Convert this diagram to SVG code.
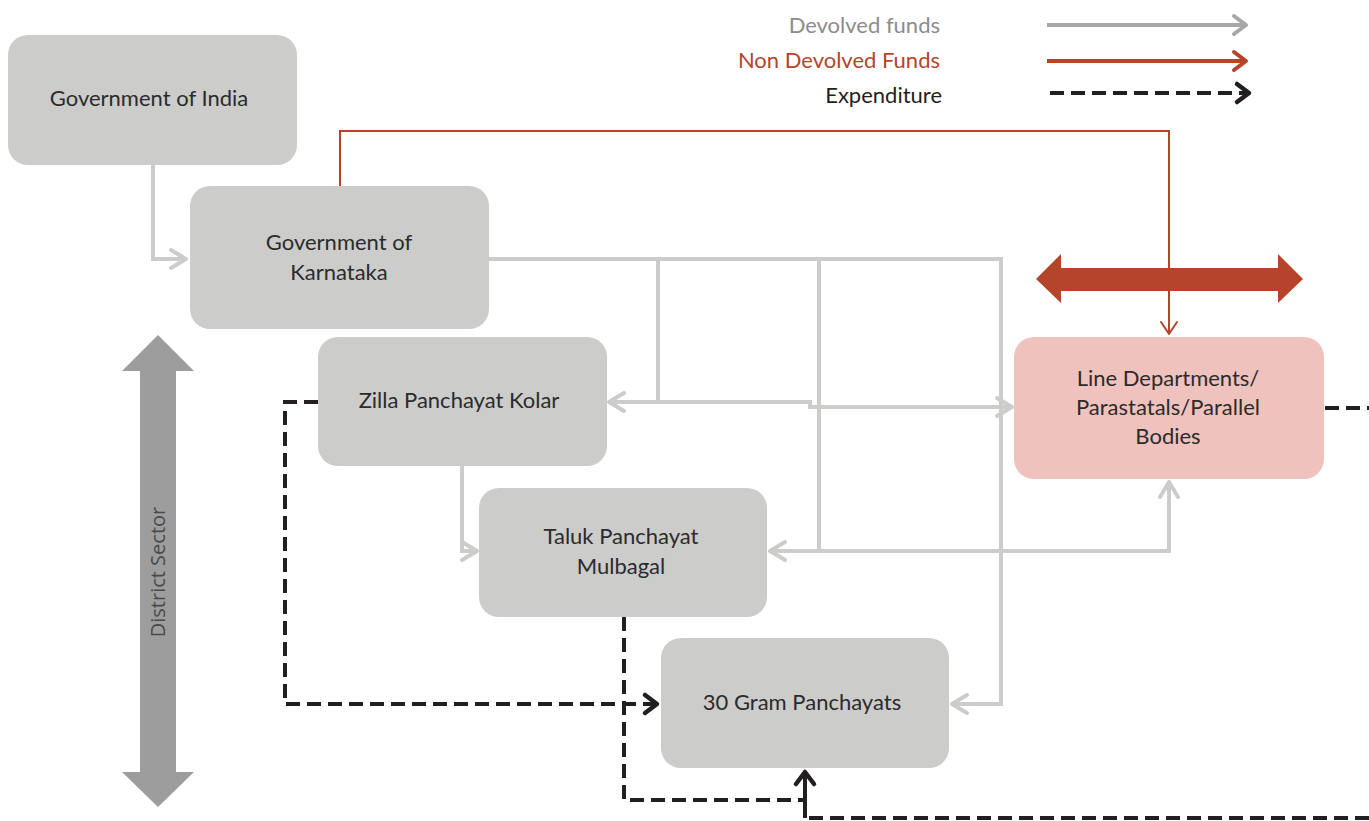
<svg xmlns="http://www.w3.org/2000/svg" width="1369" height="821" viewBox="0 0 1369 821">
<defs>
<style>
.node{fill:#cccccb}
.ld{fill:#f0c2bd}
.t{font-family:"Lato","Liberation Sans",sans-serif;font-size:22px;fill:#2b2b2b;text-anchor:middle}
.g{fill:none;stroke:#cccccb;stroke-width:4}
.r{fill:none;stroke:#b5442a;stroke-width:2}
.d{fill:none;stroke:#231f20;stroke-width:4;stroke-dasharray:14 7}
.lg{font-family:"Lato","Liberation Sans",sans-serif;font-size:22px;text-anchor:end}
</style>
<marker id="ag" markerUnits="userSpaceOnUse" viewBox="-20 -20 40 40" refX="0" refY="0" markerWidth="40" markerHeight="40" orient="auto" overflow="visible">
<path d="M-15,-9 L0,0 L-15,9" fill="none" stroke="#cccccb" stroke-width="4" stroke-linecap="round" stroke-linejoin="round"/>
</marker>
<marker id="agl" markerUnits="userSpaceOnUse" viewBox="-20 -20 40 40" refX="0" refY="0" markerWidth="40" markerHeight="40" orient="auto" overflow="visible">
<path d="M-12,-9 L0,0 L-12,9" fill="none" stroke="#a7a7a7" stroke-width="4" stroke-linecap="round" stroke-linejoin="round"/>
</marker>
<marker id="ar" markerUnits="userSpaceOnUse" viewBox="-20 -20 40 40" refX="0" refY="0" markerWidth="40" markerHeight="40" orient="auto" overflow="visible">
<path d="M-12,-8 L0,0 L-12,8" fill="none" stroke="#b5442a" stroke-width="2" stroke-linecap="round" stroke-linejoin="round"/>
</marker>
<marker id="arl" markerUnits="userSpaceOnUse" viewBox="-20 -20 40 40" refX="0" refY="0" markerWidth="40" markerHeight="40" orient="auto" overflow="visible">
<path d="M-12,-9 L0,0 L-12,9" fill="none" stroke="#b5442a" stroke-width="4" stroke-linecap="round" stroke-linejoin="round"/>
</marker>
<marker id="ak" markerUnits="userSpaceOnUse" viewBox="-20 -20 40 40" refX="0" refY="0" markerWidth="40" markerHeight="40" orient="auto" overflow="visible">
<path d="M-12,-9 L0,0 L-12,9" fill="none" stroke="#231f20" stroke-width="4.5" stroke-dasharray="none" stroke-linecap="round" stroke-linejoin="round"/>
</marker>
</defs>
<rect width="1369" height="821" fill="#ffffff"/>

<g id="legend">
<text class="lg" x="940" y="33" fill="#8c8c8c">Devolved funds</text>
<text class="lg" x="940" y="68" fill="#b5442a">Non Devolved  Funds</text>
<text class="lg" x="942" y="103" fill="#231f20">Expenditure</text>
<line x1="1047" y1="25" x2="1246" y2="25" stroke="#a7a7a7" stroke-width="4" marker-end="url(#agl)"/>
<line x1="1047" y1="61" x2="1246" y2="61" stroke="#b5442a" stroke-width="4" marker-end="url(#arl)"/>
<line x1="1050" y1="93" x2="1249" y2="93" class="d" marker-end="url(#ak)"/>
</g>

<g id="district-sector">
<polygon points="158,335 194,371 176,371 176,772 194,772 158,807 122,772 140,772 140,371 122,371" fill="#9d9d9d"/>
<text transform="translate(165,572) rotate(-90)" font-family="'Open Sans','Liberation Sans',sans-serif" font-size="20" fill="#4a4a4a" text-anchor="middle">District Sector</text>
</g>

<g id="red-double-arrow">
<polygon points="1036,279 1061,254 1061,268 1278,268 1278,254 1303,279 1278,303 1278,291 1061,291 1061,303" fill="#b5442a"/>
</g>

<g id="connectors">
<path class="g" d="M153,165 V259 H186" marker-end="url(#ag)"/>
<path class="g" d="M489,259 H1001 V704 H952" marker-end="url(#ag)"/>
<path class="g" d="M658,259 V402 H609" marker-end="url(#ag)"/>
<path class="g" d="M658,402 H810 V407 H1012" marker-end="url(#ag)"/>
<path class="g" d="M819,259 V551 H770" marker-end="url(#ag)"/>
<path class="g" d="M819,551 H1169 V482" marker-end="url(#ag)"/>
<path class="g" d="M462,466 V551 H477" marker-end="url(#ag)"/>
<path class="r" d="M340,186 V131 H1169 V334" marker-end="url(#ar)"/>
<path class="d" d="M318,402 H285 V704 H657" marker-end="url(#ak)"/>
<path class="d" d="M624,617 V800 H805"/>
<path class="d" d="M1369,818 H805"/>
<path d="M805,818 V772" fill="none" stroke="#231f20" stroke-width="4" marker-end="url(#ak)"/>
<path class="d" d="M1325,408 H1369"/>
</g>

<g id="gov-india">
<rect class="node" x="8" y="35" width="289" height="130" rx="20"/>
<text class="t" x="149" y="106">Government of India</text>
</g>
<g id="gov-karnataka">
<rect class="node" x="190" y="186" width="299" height="143" rx="20"/>
<text class="t" x="339" y="250">Government of</text>
<text class="t" x="339" y="280">Karnataka</text>
</g>
<g id="zilla">
<rect class="node" x="318" y="337" width="289" height="129" rx="20"/>
<text class="t" x="459" y="408">Zilla Panchayat Kolar</text>
</g>
<g id="taluk">
<rect class="node" x="479" y="488" width="288" height="129" rx="20"/>
<text class="t" x="621" y="544">Taluk Panchayat</text>
<text class="t" x="621" y="574">Mulbagal</text>
</g>
<g id="gram">
<rect class="node" x="661" y="638" width="288" height="130" rx="20"/>
<text class="t" x="802" y="710">30 Gram Panchayats</text>
</g>
<g id="line-departments">
<rect class="ld" x="1014" y="337" width="310" height="142" rx="20"/>
<text class="t" x="1168" y="386">Line Departments/</text>
<text class="t" x="1168" y="415">Parastatals/Parallel</text>
<text class="t" x="1168" y="444">Bodies</text>
</g>
</svg>
